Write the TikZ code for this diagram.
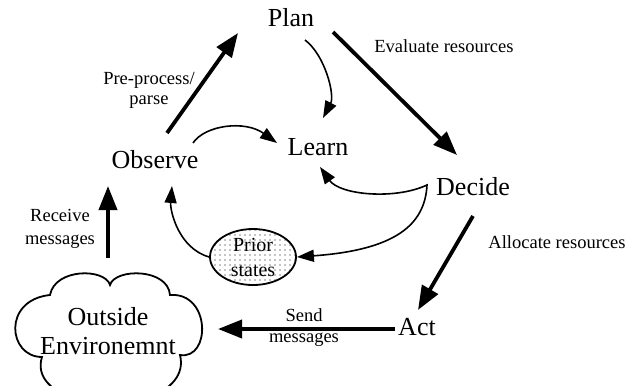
\documentclass[tikz,border=0pt]{standalone}
\usepackage{fontspec}
\setmainfont{Liberation Serif}
\usetikzlibrary{arrows.meta,calc,patterns.meta,shapes.geometric}
\begin{document}
\begin{tikzpicture}[x=1pt,y=-1pt,
 big/.style={font=\fontsize{26}{29}\selectfont, inner sep=0pt, anchor=base},
 lbl/.style={font=\fontsize{18.5}{20}\selectfont, inner sep=0pt, align=center},
 thickarrow/.style={line width=3.8pt, -{Triangle[length=24pt,width=18pt]}},
 thinarrow/.style={line width=1.6pt, -{Triangle[length=17pt,width=12pt]}},
]
\clip (0,0) rectangle (636,385);
\fill[white] (0,0) rectangle (636,385);

% main nodes
\node[big] (plan) at (291,27) {Plan};
\node[big] (learn) at (318,155) {Learn};
\node[big] (obs) at (155,168) {Observe};
\node[big] (decide) at (473,195) {Decide};
\node[big] (act) at (417,335) {Act};
\node[font=\fontsize{26}{29}\selectfont, inner sep=0pt, align=center] (env) at (108,331) {Outside\\Environemnt};
\node[ellipse, draw, line width=1.8pt, minimum width=86pt, minimum height=56pt, inner sep=0pt,
      pattern={Dots[distance=5pt,radius=0.55pt]}, font=\fontsize{20}{25}\selectfont, align=center]
      (prior) at (253,257) {Prior\\states};

% cloud outline
\draw[line width=1.8pt] (50,295) .. controls (55,268) and (105,268) .. (110,285)
  .. controls (115,268) and (168,268) .. (170,295)
  .. controls (211,292) and (211,360) .. (180,355)
  .. controls (190,395) and (120,410) .. (110,395)
  .. controls (100,410) and (30,395) .. (42,357)
  .. controls (8,357) and (2,300) .. cycle;

% labels
\node[lbl] (lpre) at (149,90) {Pre-process/\\parse};
\node[lbl] (leval) at (444,46) {Evaluate resources};
\node[lbl] (lalloc) at (557,242) {Allocate resources};
\node[lbl, font=\fontsize{18.5}{23}\selectfont] (lrecv) at (60,229) {Receive\\messages};
\node[lbl, font=\fontsize{18.5}{21}\selectfont] (lsend) at (304,328) {Send\\messages};

\coordinate (cusp) at (427,185);

% thick arrows
\draw[thickarrow] ($(obs.base)+(12,-35)$) -- ($(plan.base)+(-53,6)$);
\draw[thickarrow] ($(plan.base)+(42,5)$) -- ($(decide.base)+(-16,-40)$);
\draw[thickarrow] ($(decide.base)+(0,21)$) -- ($(act.base)+(1,-25)$);
\draw[thickarrow] ($(act.base)+(-22,-6)$) -- ($(env)+(110,-2)$);
\draw[thickarrow] ($(env)+(0,-73)$) -- ($(obs.base)+(-47,18)$);

% thin curved arrows
\draw[thinarrow] ($(plan.base)+(14,13)$) .. controls (325,55) and (335,95) .. ($(learn.base)+(5,-37)$);
\draw[thinarrow] ($(obs.base)+(38,-25)$) .. controls (205,125) and (245,120) .. ($(learn.base)+(-41,-12)$);
\draw[line width=1.6pt, {Triangle[length=17pt,width=12pt]}-{Triangle[length=17pt,width=12pt]}]
  ($(learn.base)+(2,12)$) .. controls (340,195) and (395,200) .. (cusp)
  .. controls (425,225) and (395,250) .. (prior.east);
\draw[thinarrow] (prior.west) .. controls (178,248) and (170,210) .. ($(obs.base)+(17,18)$);
\end{tikzpicture}
\end{document}
